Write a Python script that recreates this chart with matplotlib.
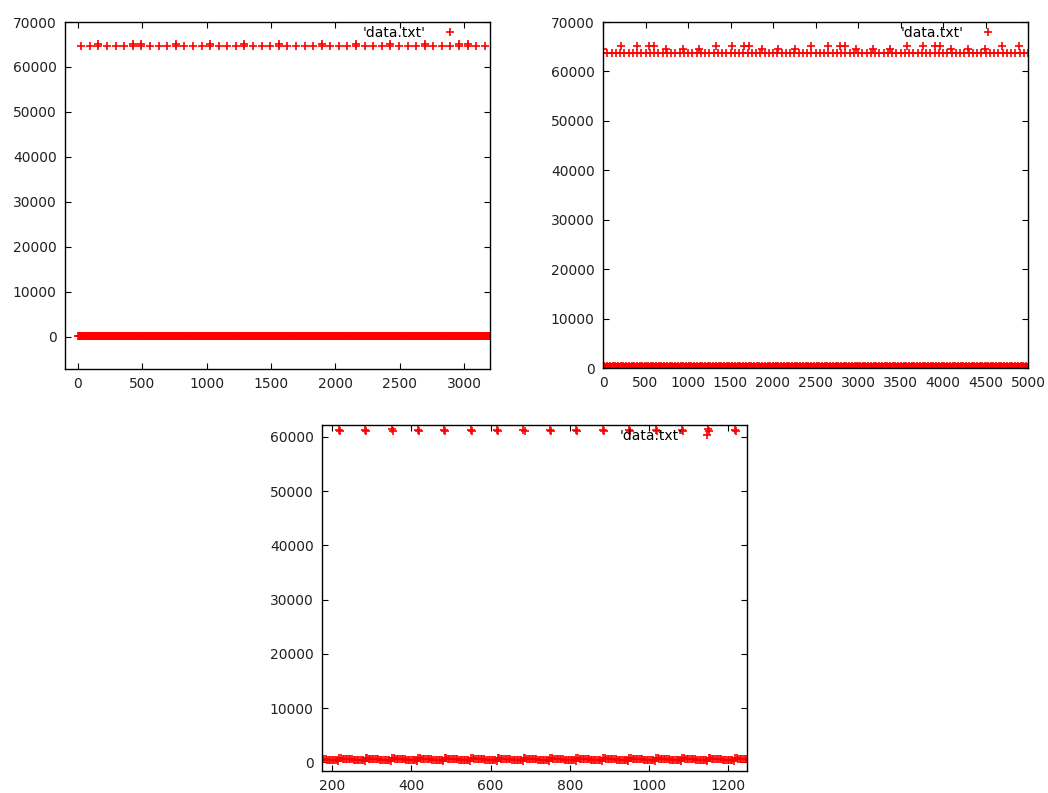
import numpy as np
import matplotlib.pyplot as plt

plt.rcParams['font.family'] = 'DejaVu Sans'
plt.rcParams['font.size'] = 10

RED = '#ff0000'

# --- panel 1 (0..3200 samples) ---
glitch_x1 = [26, 93, 159, 226, 293, 360, 426, 493, 560, 626, 693, 760,
             826, 893, 960, 1026, 1093, 1160, 1226, 1293, 1360, 1426, 1493, 1560,
             1627, 1693, 1760, 1827, 1893, 1960, 2027, 2093, 2160, 2227, 2293, 2360,
             2427, 2493, 2560, 2627, 2693, 2760, 2827, 2893, 2960, 3027, 3093, 3160]
glitch_y1 = 64700
extra_x1 = [159, 426, 493, 760, 1026, 1293, 1560, 1893, 2160, 2427, 2693, 2960, 3027]
extra_y1 = 65200
band_x1 = np.arange(0, 3200, 5)
band_y1 = [150, 250, 100, 200]

# --- panel 2 (0..5000 samples) ---
top_x2 = np.arange(0, 5001, 50)
top_y2 = 63800
high_x2 = [207, 402, 539, 597, 1327, 1522, 1659, 1718, 2451, 2646, 2783, 2842,
           3571, 3767, 3903, 3962, 4696, 4891]
high_y2 = 65200
mid_x2 = [0, 742, 937, 1132, 1866, 2061, 2256, 2978, 3173, 3377, 4098, 4294, 4489]
mid_y2 = 64500
band_x2 = np.arange(0, 5001, 8)
band_y2 = [300, 150, 450, 250]

# --- panel 3 (zoom 174..1248) ---
glitch_x3 = [150, 217, 283, 350, 416, 483, 550, 617, 683, 750, 816, 883, 950,
             1017, 1083, 1150, 1217]
glitch_y3 = [61300, 61300, 61300, 61500, 61300, 61300, 61300, 61300, 61300,
             61300, 61300, 61300, 61300, 61300, 61300, 61400, 61300]
glitch_y3b = 61050
seg_dx3 = [1, 5, 9, 13, 17, 21, 25, 29, 33, 37, 41, 45, 49, 53, 57, 61, 65]
seg_y3 = [750, 720, 690, 660, 640, 610, 580, 560, 530, 500, 470, 450, 420, 390, 360, 340, 300]


def style(ax, xlim, ylim, xticks, yticks):
    ax.set_xlim(*xlim)
    ax.set_ylim(*ylim)
    ax.set_xticks(xticks)
    ax.set_yticks(yticks)
    ax.tick_params(direction='in', length=4, width=0.8, top=True, right=True,
                   labelsize=10, pad=6, labelcolor='#222222')
    for s in ax.spines.values():
        s.set_linewidth(1.0)
    ax.legend(loc='upper right', bbox_to_anchor=(1 - 19 / 425, 1.0),
              markerfirst=False, frameon=False, handlelength=2.4,
              handletextpad=0.6, borderaxespad=0.0, borderpad=0.3,
              fontsize=10)


fig = plt.figure(figsize=(10.48, 7.93), dpi=100)
mk = dict(ls='none', marker='+', color=RED, ms=5.5, mew=1.2)

ax1 = fig.add_axes([65 / 1048, 1 - 369 / 793, 425 / 1048, 347 / 793])
ax1.plot(glitch_x1, [glitch_y1] * len(glitch_x1), label="'data.txt'", **mk)
ax1.plot(extra_x1, [extra_y1] * len(extra_x1), **mk)
ax1.plot(band_x1, np.resize(band_y1, len(band_x1)), **mk)
style(ax1, (-100, 3200), (-7200, 70000), range(0, 3001, 500), range(0, 70001, 10000))

ax2 = fig.add_axes([603 / 1048, 1 - 368 / 793, 425 / 1048, 346 / 793])
ax2.plot(top_x2, [top_y2] * len(top_x2), label="'data.txt'", **mk)
ax2.plot(high_x2, [high_y2] * len(high_x2), **mk)
ax2.plot(mid_x2, [mid_y2] * len(mid_x2), **mk)
ax2.plot(band_x2, np.resize(band_y2, len(band_x2)), **mk)
style(ax2, (0, 5000), (0, 70000), range(0, 5001, 500), range(0, 70001, 10000))

ax3 = fig.add_axes([322 / 1048, 1 - 771 / 793, 425 / 1048, 346 / 793])
ax3.plot(glitch_x3, glitch_y3, label="'data.txt'", **mk)
ax3.plot([gx + 3 for gx in glitch_x3], [glitch_y3b] * len(glitch_x3), **mk)
for gx in glitch_x3:
    ax3.plot([gx + d for d in seg_dx3], seg_y3, **mk)
style(ax3, (174, 1248), (-1600, 62200), range(200, 1201, 200), range(0, 60001, 10000))

fig.savefig('out.png', dpi=100)
